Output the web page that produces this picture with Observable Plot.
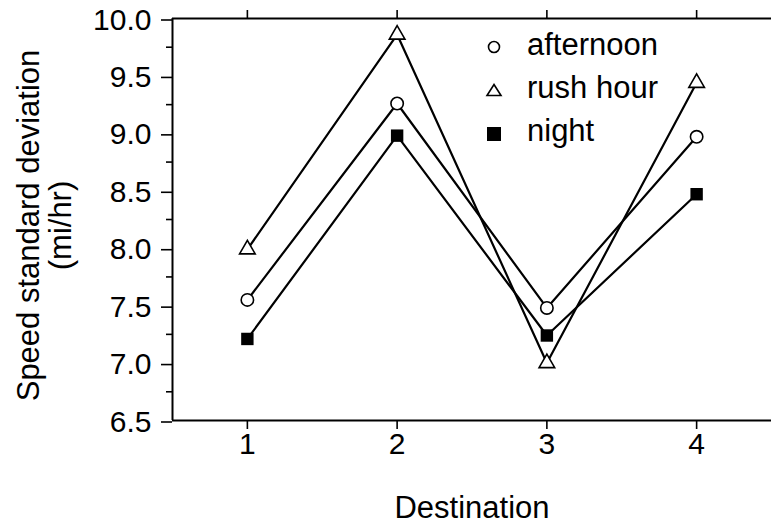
<!DOCTYPE html>
<html><head><meta charset="utf-8">
<script src="https://cdn.jsdelivr.net/npm/d3@7"></script>
<script src="https://cdn.jsdelivr.net/npm/@observablehq/plot@0.6"></script>
<style>
body{margin:0;background:#fff;font-family:"Liberation Sans",Arial,Helvetica,sans-serif;}
#wrap{position:relative;width:771px;height:524px;overflow:hidden;}
#legend{position:absolute;left:0;top:0;width:771px;height:524px;pointer-events:none;}
.lbl{position:absolute;left:527px;font-size:31px;line-height:31px;color:#000;white-space:nowrap;}
#legsym{position:absolute;left:0;top:0;}
</style>
</head><body>
<div id="wrap"><div id="legend"><svg id="legsym" width="771" height="200"></svg></div></div>
<script>
const destinations = [1, 2, 3, 4];
const afternoon = [7.55, 9.26, 7.48, 8.97];
const rushHour = [7.99, 9.86, 7.00, 9.44];
const night = [7.21, 8.98, 7.24, 8.47];
const seriesNames = ["afternoon", "rush hour", "night"];
const xDomain = [0.5, 4.5];
const yDomain = [6.5, 10];
const yTicks = [6.5, 7.0, 7.5, 8.0, 8.5, 9.0, 9.5, 10.0];
const yMinorTicks = [6.75, 7.25, 7.75, 8.25, 8.75, 9.25, 9.75];
const xTicks = [1, 2, 3, 4];
const yTitle = "Speed standard deviation\n(mi/hr)";
const xTitle = "Destination";

const seriesValues = [afternoon, rushHour, night];
const table = seriesNames.flatMap((s, k) => destinations.map((d, i) => ({series: s, x: d, y: seriesValues[k][i]})));
const bySeries = s => table.filter(d => d.series === s);

const font = "'Liberation Sans', Arial, Helvetica, sans-serif";
const chart = Plot.plot({
  width: 771, height: 524,
  marginLeft: 172, marginTop: 18, marginRight: 0, marginBottom: 104,
  style: {fontFamily: font, fontSize: "30px", background: "white", color: "black", overflow: "visible"},
  x: {domain: xDomain},
  y: {domain: yDomain},
  marks: [
    Plot.axisY({ticks: yTicks, tickFormat: d3.format(".1f"), tickSize: 11, tickPadding: 10, label: null, fontSize: 30, dy: 1.5, strokeWidth: 1.6}),
    Plot.axisY({ticks: yMinorTicks, tickFormat: () => "", tickSize: 6, label: null, strokeWidth: 1.6}),
    Plot.axisX({ticks: xTicks, tickFormat: d3.format("d"), tickSize: 9, tickPadding: 3, label: null, fontSize: 30, strokeWidth: 1.6}),
    Plot.axisX({anchor: "top", ticks: xTicks, tickFormat: () => "", tickSize: 9, label: null, strokeWidth: 1.6}),
    Plot.ruleX([xDomain[0]], {stroke: "black", strokeWidth: 2}),
    Plot.ruleY(yDomain, {stroke: "black", strokeWidth: 2.2}),
    Plot.line(table, {x: "x", y: "y", z: "series", stroke: "black", strokeWidth: 2.2}),
    Plot.dot(bySeries("afternoon"), {x: "x", y: "y", symbol: "circle", r: 6.2, fill: "white", stroke: "black", strokeWidth: 1.6}),
    Plot.dot(bySeries("rush hour"), {x: "x", y: "y", symbol: "triangle", r: 5.8, fill: "white", stroke: "black", strokeWidth: 1.6}),
    Plot.dot(bySeries("night"), {x: "x", y: "y", symbol: "square", r: 7, fill: "black", stroke: "none"}),
    Plot.text([yTitle], {frameAnchor: "left", rotate: -90, dx: -128, dy: 6, fontSize: 31, lineHeight: 1.06, textAnchor: "middle", lineAnchor: "middle"}),
    Plot.text([xTitle], {frameAnchor: "bottom", dy: 75, fontSize: 31, lineAnchor: "top"})
  ]
});
const wrap = document.getElementById("wrap");
wrap.insertBefore(chart, wrap.firstChild);

const legend = document.getElementById("legend");
const sym = document.getElementById("legsym");
const cx = 494;
seriesNames.forEach((s, i) => {
  const cy = 47 + i * 43.5;
  let shape;
  if (s === "afternoon") shape = `<circle cx="${cx}" cy="${cy}" r="5.5" fill="white" stroke="black" stroke-width="1.6"/>`;
  else if (s === "rush hour") shape = `<path d="M${cx},${cy - 6} L${cx + 7},${cy + 5} L${cx - 7},${cy + 5} Z" fill="white" stroke="black" stroke-width="1.6"/>`;
  else shape = `<rect x="${cx - 7}" y="${cy - 7}" width="14" height="14" fill="black"/>`;
  sym.insertAdjacentHTML("beforeend", shape);
  const lbl = document.createElement("div");
  lbl.className = "lbl";
  lbl.style.top = (29 + i * 43) + "px";
  lbl.textContent = s;
  legend.appendChild(lbl);
});
</script>
</body></html>
